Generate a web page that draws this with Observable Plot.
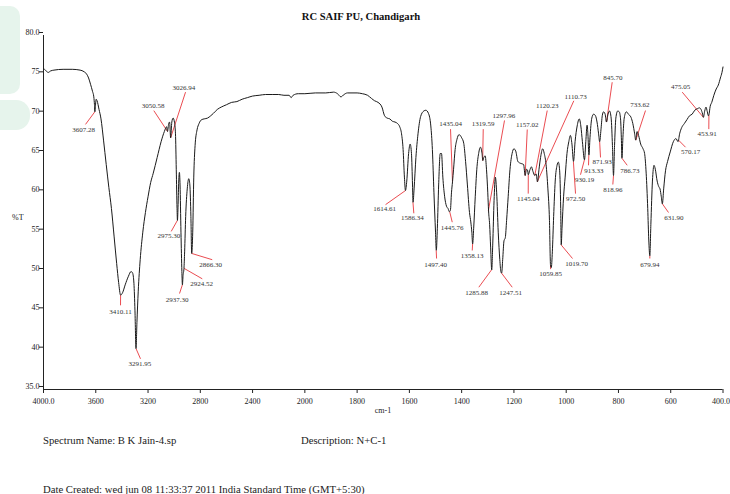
<!DOCTYPE html>
<html>
<head>
<meta charset="utf-8">
<script src="https://cdn.jsdelivr.net/npm/d3@7"></script>
<script src="https://cdn.jsdelivr.net/npm/@observablehq/plot@0.6"></script>
<style>
  html, body { margin: 0; padding: 0; background: #fff; }
  #wrap { position: relative; width: 730px; height: 494px; overflow: hidden; font-family: "Liberation Serif", "DejaVu Serif", serif; color: #222; }
  #wrap svg { position: absolute; left: 0; top: 0; }
  .t { position: absolute; white-space: nowrap; line-height: 1; }
  .wm { position: absolute; background: #e6f4ec; }
</style>
</head>
<body>
<div id="wrap">
  <div class="wm" style="left:0;top:6px;width:20px;height:88px;border-radius:0 10px 10px 0;"></div>
  <div class="wm" style="left:0;top:100px;width:30px;height:30px;border-radius:0 14px 14px 0;"></div>
</div>
<script>
// ---- data ----
const title = "RC SAIF PU, Chandigarh";
const xLabel = "cm-1";
const yLabel = "%T";
const spectrumName = "Spectrum Name: B K Jain-4.sp";
const description = "Description: N+C-1";
const dateCreated = "Date Created: wed jun 08 11:33:37 2011 India Standard Time (GMT+5:30)";

// x tick values; the instrument's axis spaces them evenly (scale doubles below 2000 cm-1)
const xTicks = [4000, 3600, 3200, 2800, 2400, 2000, 1800, 1600, 1400, 1200, 1000, 800, 600, 400];
const yTicks = [35, 40, 45, 50, 55, 60, 65, 70, 75, 80];

// wavenumber (cm-1)
const wavenumber = [
  4000,3985,3965,3945,3920,3850,3780,3720,3690,3670,3655,3640,3625,3615,3610,3607,3603,3597,3590,3575,
  3560,3540,3520,3500,3480,3460,3440,3425,3410,3395,3375,3350,3330,3318,3308,3300,3292,3285,3275,3260,
  3240,3220,3200,3180,3160,3130,3100,3075,3058,3051,3042,3035,3027,3018,3008,2998,2990,2984,2978,2975,
  2970,2965,2960,2955,2948,2941,2937,2932,2925,2920,2912,2900,2888,2880,2872,2866,2858,2850,2840,2825,
  2810,2790,2770,2745,2720,2700,2670,2640,2600,2560,2520,2480,2440,2400,2350,2300,2250,2200,2160,2120,
  2105,2090,2050,2000,1960,1920,1890,1875,1862,1850,1837,1800,1780,1760,1745,1733,1720,1705,1695,1685,
  1675,1665,1655,1645,1637,1630,1624,1619,1615,1610,1603,1597,1592,1588,1586,1582,1575,1567,1557,1545,
  1537,1527,1518,1512,1506,1500,1497,1493,1488,1482,1477,1472,1465,1458,1452,1447,1443,1439,1435,1431,
  1425,1418,1410,1400,1392,1385,1378,1370,1365,1361,1358,1354,1348,1342,1335,1328,1322,1319,1315,1310,
  1305,1300,1297,1293,1289,1285,1281,1276,1271,1266,1260,1254,1250,1247,1243,1238,1233,1228,1222,1215,
  1207,1200,1193,1185,1178,1170,1163,1157,1152,1148,1145,1140,1133,1127,1120,1115,1110,1104,1098,1090,
  1084,1077,1070,1064,1060,1057,1053,1048,1042,1035,1030,1025,1021,1019,1016,1010,1004,997,990,984,
  978,972,966,958,950,944,938,930,925,920,917,913,909,902,895,888,882,876,872,867,
  862,857,851,846,840,834,828,823,819,815,810,803,797,792,789,786.7,783,778,770,762,
  752,745,738,734,729,723,715,706,700,694,688,684,680,676,670,664,659,652,646,641,
  636,632,627,620,612,602,590,580,572,566,558,548,538,528,518,508,498,490,484,478,
  475,470,465,460,456,454,449,443,435,426,418,410,404,400
];
// transmittance (%T)
const transmittance = [
  75.8,75.6,75.3,75.5,75.6,75.7,75.7,75.6,75.4,75.1,74.6,73.8,72.9,72.2,71.2,70.3,71.0,71.9,71.7,70.6,
  69.4,66.6,63.6,60.7,58.0,54.5,51.0,48.6,47.0,47.3,48.3,49.4,50.0,49.8,48.5,45.0,40.2,43.5,47.5,51.5,
  55.0,57.5,59.5,61.3,62.5,64.5,66.5,67.8,68.4,67.8,68.8,69.0,67.0,69.0,69.5,69.0,67.5,63.0,58.0,56.5,
  58.5,61.5,62.6,61.0,55.0,50.0,48.3,49.5,50.4,52.5,57.0,60.5,61.8,61.0,57.0,52.3,55.0,62.0,66.0,68.0,
  68.8,69.3,69.4,69.5,69.8,70.1,70.6,70.9,71.2,71.5,71.6,71.9,72.1,72.3,72.4,72.5,72.5,72.5,72.4,72.4,
  72.1,72.4,72.6,72.6,72.7,72.7,72.8,72.6,72.2,72.5,72.7,72.7,72.6,72.4,72.0,71.7,71.5,70.9,69.8,69.5,
  69.4,69.1,69.0,68.8,68.4,67.5,65.5,62.0,60.3,61.5,65.0,66.2,65.0,61.0,58.8,60.5,64.5,67.5,69.7,70.4,
  70.5,70.1,68.5,65.5,60.0,55.0,52.7,55.5,61.0,65.0,65.0,62.0,59.5,58.3,58.0,57.6,57.8,60.0,61.4,63.0,
  65.5,66.8,67.4,67.0,66.3,64.0,61.0,57.5,56.3,55.0,53.5,55.5,59.5,63.0,65.0,65.8,65.0,64.1,64.5,64.7,
  63.0,60.0,57.7,56.0,53.0,50.2,53.5,59.0,62.0,60.0,55.0,51.5,50.0,49.8,51.5,53.9,54.3,56.5,59.5,63.0,
  65.0,65.6,65.3,64.0,63.8,63.7,63.6,62.2,63.0,62.9,62.3,62.8,63.3,62.7,62.2,62.4,61.4,63.0,64.5,65.6,
  65.0,63.6,60.5,56.5,50.8,50.5,52.5,57.0,61.5,63.5,63.9,62.8,58.0,53.4,55.5,59.5,62.0,65.0,66.5,67.3,
  66.2,64.0,66.5,68.5,69.4,68.5,66.5,64.2,66.5,68.6,67.5,64.8,67.0,69.5,70.0,69.8,69.0,67.5,66.5,68.0,
  69.8,70.3,70.0,69.0,70.0,70.4,69.5,66.0,62.2,66.0,69.5,70.4,70.3,69.4,67.0,64.4,67.0,69.5,70.3,70.0,
  69.6,68.8,67.5,66.7,67.8,67.3,66.2,65.6,65.0,62.5,58.0,54.0,52.0,56.0,61.5,63.5,63.0,61.5,60.8,60.5,
  59.5,58.6,60.5,62.8,64.0,65.2,66.5,66.9,66.5,67.5,68.3,68.8,69.3,69.8,70.0,70.5,70.7,70.8,70.6,70.0,
  69.6,70.4,70.9,70.3,69.8,69.9,71.0,71.5,72.4,73.2,73.7,74.6,75.3,76.0
];

// peak annotations: label text, peak (wavenumber, %T)
const peakLabels = ["3607.28","3050.58","3026.94","3410.11","3291.95","2975.30","2937.30","2924.52","2866.30",
  "1614.61","1586.34","1497.40","1445.76","1435.04","1358.13","1319.59","1297.96","1285.88","1247.51",
  "1157.02","1145.04","1120.23","1110.73","1059.85","1019.70","972.50","930.19","913.33","871.93","845.70","818.96","786.73",
  "733.62","679.94","631.90","570.17","475.05","453.91"];
const peakWn = [3607.28,3050.58,3026.94,3410.11,3291.95,2975.30,2937.30,2924.52,2866.30,
  1614.61,1586.34,1497.40,1445.76,1435.04,1358.13,1319.59,1297.96,1285.88,1247.51,
  1157.02,1145.04,1120.23,1110.73,1059.85,1019.70,972.50,930.19,913.33,871.93,845.70,818.96,786.73,
  733.62,679.94,631.90,570.17,475.05,453.91];
const peakT = [70.3,67.8,67.0,47.0,40.2,56.5,48.3,50.4,52.3,
  60.3,58.8,52.7,57.6,61.4,53.5,64.1,57.7,50.2,49.8,
  62.2,62.3,62.2,61.4,50.8,53.4,64.0,64.2,64.8,66.5,69.0,62.2,64.4,
  66.7,52.0,58.6,66.7,69.6,69.9];
// where each label text sits (wavenumber, %T)
const labelWn = [3693.8,3160.4,2926,3410.6,3263,3041,2976.7,2790.7,2721.8,
  1695,1589,1500,1436,1442.6,1359.5,1317.4,1238.6,1343,1213,
  1149,1145.3,1072.6,964.3,1060,960.5,964.3,929.9,894.3,862.1,821.6,821.6,756.5,
  718.3,680,588.2,524.3,562.6,460.4];
const labelT = [68.05,71.1,73.35,44.9,38.27,54.5,46.4,48.5,50.9,
  57.97,56.8,50.9,55.6,68.8,52.0,68.8,69.8,47.24,47.24,
  68.7,59.24,71.1,72.24,49.7,50.95,59.24,61.7,62.84,63.9,74.6,60.4,62.84,
  71.14,50.9,56.8,65.16,73.5,67.5];
// where each red leader line starts near its label (wavenumber, %T)
const leadWn = [3678.5,3155.8,2913,3410.6,3257.6,3022.6,2959,2785,2708.8,
  1691.2,1583,1496,1436,1442.6,1359.5,1317.4,1236,1334.3,1206.5,
  1149,1145.3,1072.6,970.8,1059.85,975.8,964.3,945.2,914.6,868.7,824,821.6,766.5,
  696.5,680,608.5,543.4,556,454.3];
const leadT = [68.7,70.45,72.8,45.7,38.9,55.1,47.2,49.07,51.5,
  58.5,57.4,51.65,56.27,68.1,52.67,68.1,69.2,48.0,48.0,
  68.05,59.9,70.46,71.7,50.3,51.65,59.9,62.3,63.5,64.5,74.06,61.06,63.5,
  70.46,51.65,57.5,65.8,72.8,68.1];

// ---- build tables ----
const spectrum = wavenumber.map((w, i) => ({w, t: transmittance[i]}));
const peaks = peakLabels.map((s, i) => ({
  s, w: peakWn[i], t: peakT[i], lw: labelWn[i], lt: labelT[i], aw: leadWn[i], at: leadT[i]
}));

const fmtX = d => d === 400 ? "" : d === 4000 ? d.toFixed(1) : String(d);
const fmtY = d => (d === 35 || d === 80) ? d.toFixed(1) : String(d);
const lastTick = xTicks[xTicks.length - 1];

const chart = Plot.plot({
  width: 730,
  height: 420,
  marginTop: 35, marginBottom: 31, marginLeft: 43, marginRight: 7.5,
  style: {fontFamily: "Liberation Serif, serif", fontSize: "8px", background: "transparent", color: "#222", overflow: "visible"},
  // piecewise-linear scale: the tick values are spread evenly across the frame
  x: {type: "linear", domain: xTicks, axis: null},
  y: {domain: [35, 80], axis: null},
  marks: [
    Plot.axisY({ticks: yTicks, tickFormat: fmtY, tickSize: 4, tickPadding: 0, dy: -3, fontSize: 8, label: null, stroke: "#222", fill: "#222"}),
    Plot.axisX({ticks: xTicks, tickFormat: fmtX, tickSize: 4, tickPadding: 5, fontSize: 8, label: null, stroke: "#222", fill: "#222"}),
    Plot.text([lastTick], {x: d => d, frameAnchor: "bottom", dy: 9, lineAnchor: "top", textAnchor: "end", dx: 7, text: d => d.toFixed(1), fontSize: 8, fill: "#222"}),
    Plot.ruleX([4000], {stroke: "#222", strokeWidth: 1}),
    Plot.ruleY([35], {stroke: "#222", strokeWidth: 1}),
    Plot.link(peaks, {x1: "aw", y1: "at", x2: "w", y2: "t", stroke: "#e8383d", strokeWidth: 0.9}),
    Plot.line(spectrum, {x: "w", y: "t", stroke: "#1a1a1a", strokeWidth: 1, curve: "monotone-x"}),
    Plot.text(peaks, {x: "lw", y: "lt", text: "s", fontSize: 7, fill: "#333", lineAnchor: "middle", textAnchor: "middle"})
  ]
});

const wrap = document.getElementById("wrap");
wrap.appendChild(chart);

function addText(txt, css) {
  const d = document.createElement("div");
  d.className = "t";
  d.textContent = txt;
  Object.assign(d.style, css);
  wrap.appendChild(d);
}
addText(title, {left: "361px", top: "12px", transform: "translateX(-50%)", fontWeight: "bold", fontSize: "10.6px", color: "#111"});
addText(yLabel, {left: "12px", top: "214px", fontSize: "8px"});
addText(xLabel, {left: "383px", top: "407px", transform: "translateX(-50%)", fontSize: "8px"});
addText(spectrumName, {left: "43px", top: "435px", fontSize: "10.7px"});
addText(description, {left: "301px", top: "435px", fontSize: "10.7px"});
addText(dateCreated, {left: "43px", top: "484px", fontSize: "10.7px"});
</script>
</body>
</html>
